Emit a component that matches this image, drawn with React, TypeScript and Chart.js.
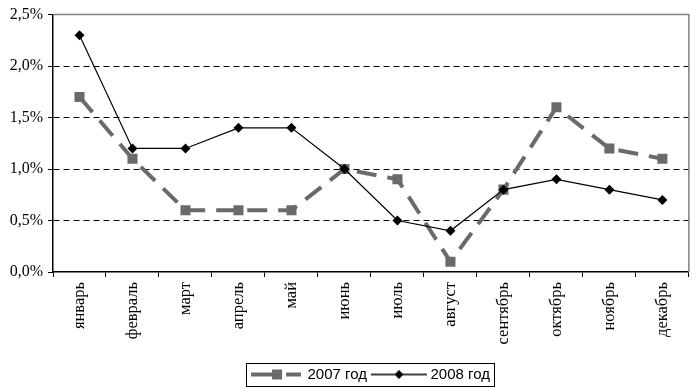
import React, { useEffect, useRef } from "react";
import { Chart, registerables } from "chart.js";

Chart.register(...registerables);

const months = [
  "январь", "февраль", "март", "апрель", "май", "июнь",
  "июль", "август", "сентябрь", "октябрь", "ноябрь", "декабрь",
];
const series2007 = [1.7, 1.1, 0.6, 0.6, 0.6, 1.0, 0.9, 0.1, 0.8, 1.6, 1.2, 1.1];
const series2008 = [2.3, 1.2, 1.2, 1.4, 1.4, 1.0, 0.5, 0.4, 0.8, 0.9, 0.8, 0.7];
const seriesNames = ["2007 год", "2008 год"];
const yTicks = [0, 0.5, 1.0, 1.5, 2.0, 2.5];

const GRAY = "#6a6a6a";
const SERIF = "'Liberation Serif', 'Times New Roman', serif";
const SANS = "'Liberation Sans', Arial, sans-serif";

function makeSample2007(): HTMLCanvasElement {
  const c = document.createElement("canvas");
  c.width = 50;
  c.height = 12;
  const g = c.getContext("2d")!;
  g.fillStyle = GRAY;
  g.fillRect(0, 4, 22, 4);
  g.fillRect(21, 1, 10, 10);
  g.fillRect(35, 4, 15, 4);
  return c;
}

function makeSample2008(): HTMLCanvasElement {
  const c = document.createElement("canvas");
  c.width = 56;
  c.height = 12;
  const g = c.getContext("2d")!;
  g.strokeStyle = "#000";
  g.lineWidth = 1.5;
  g.beginPath();
  g.moveTo(0, 6);
  g.lineTo(56, 6);
  g.stroke();
  g.fillStyle = "#000";
  g.beginPath();
  g.moveTo(28, 1.5);
  g.lineTo(32.5, 6);
  g.lineTo(28, 10.5);
  g.lineTo(23.5, 6);
  g.closePath();
  g.fill();
  return c;
}

const framePlugin = {
  id: "frame",
  afterDraw(chart: any) {
    const { ctx, chartArea } = chart;
    ctx.save();
    ctx.strokeStyle = "#808080";
    ctx.lineWidth = 1.5;
    ctx.beginPath();
    ctx.moveTo(chartArea.left, chartArea.top);
    ctx.lineTo(chartArea.right, chartArea.top);
    ctx.lineTo(chartArea.right, chartArea.bottom);
    ctx.stroke();
    const hb = chart.legend && chart.legend.legendHitBoxes;
    if (hb && hb.length) {
      const l = Math.min(...hb.map((h: any) => h.left)) - 6;
      const r = Math.max(...hb.map((h: any) => h.left + h.width)) + 4;
      const t = hb[0].top - 4;
      const b = hb[0].top + hb[0].height + 4;
      ctx.strokeStyle = "#000";
      ctx.lineWidth = 1;
      ctx.strokeRect(Math.round(l) + 0.5, Math.round(t) + 0.5, Math.round(r - l), Math.round(b - t));
    }
    ctx.restore();
  },
};

export default function App() {
  const ref = useRef<HTMLCanvasElement | null>(null);

  useEffect(() => {
    if (!ref.current) return;
    const samples = [makeSample2007(), makeSample2008()];
    const chart = new Chart(ref.current, {
      type: "line",
      data: {
        labels: months,
        datasets: [
          {
            label: seriesNames[0],
            data: series2007,
            borderColor: GRAY,
            backgroundColor: GRAY,
            borderWidth: 4,
            borderDash: [20, 11],
            pointStyle: "rect",
            pointRadius: 7.1,
            pointBorderWidth: 0,
            pointBackgroundColor: GRAY,
            tension: 0,
            order: 1,
          },
          {
            label: seriesNames[1],
            data: series2008,
            borderColor: "#000",
            backgroundColor: "#000",
            borderWidth: 1.2,
            pointStyle: "rectRot",
            pointRadius: 5,
            pointBorderWidth: 0,
            pointBackgroundColor: "#000",
            tension: 0,
            order: 0,
          },
        ],
      },
      options: {
        animation: false,
        responsive: false,
        devicePixelRatio: 1,
        layout: { padding: { top: 11, right: 6, bottom: 0, left: 0 } },
        plugins: {
          tooltip: { enabled: false },
          legend: {
            position: "bottom",
            fullSize: false,
            labels: {
              usePointStyle: true,
              pointStyleWidth: 48,
              padding: 8,
              color: "#000",
              font: { family: SANS, size: 15 },
              sort: (a: any, b: any) => a.datasetIndex - b.datasetIndex,
              generateLabels: (ch: any) => {
                const items = (Chart.defaults.plugins.legend.labels as any).generateLabels(ch);
                items.forEach((it: any) => {
                  it.pointStyle = samples[it.datasetIndex];
                });
                return items;
              },
            },
          },
        },
        scales: {
          x: {
            type: "category",
            offset: true,
            afterFit: (s: any) => {
              s.height = 87;
            },
            grid: {
              offset: true,
              drawOnChartArea: false,
              drawTicks: true,
              tickLength: 5,
              tickColor: "#000",
            },
            border: { display: true, color: "#000", width: 1.5 },
            ticks: {
              color: "#000",
              font: { family: SERIF, size: 16.5 },
              minRotation: 90,
              maxRotation: 90,
              padding: 5,
              autoSkip: false,
            },
          },
          y: {
            min: yTicks[0],
            max: yTicks[yTicks.length - 1],
            afterFit: (s: any) => {
              s.width = 53;
            },
            afterBuildTicks: (s: any) => {
              s.ticks = yTicks.map((v) => ({ value: v }));
            },
            grid: {
              color: (c: any) =>
                c.tick && (c.tick.value === 0 || c.tick.value === 2.5) ? "rgba(0,0,0,0)" : "#000",
              lineWidth: 1,
              drawTicks: true,
              tickLength: 5,
              tickColor: "#000",
            },
            border: { display: true, color: "#000", width: 1.5, dash: [6, 4] },
            ticks: {
              color: "#000",
              font: { family: SERIF, size: 16 },
              padding: 5,
              callback: (v: any) => Number(v).toFixed(1).replace(".", ",") + "%",
            },
          },
        },
      },
      plugins: [framePlugin],
    });
    return () => chart.destroy();
  }, []);

  return (
    <div style={{ position: "absolute", left: 0, top: 0, width: 696, height: 392, background: "#fff" }}>
      <canvas ref={ref} width={696} height={392} style={{ display: "block" }} />
    </div>
  );
}
